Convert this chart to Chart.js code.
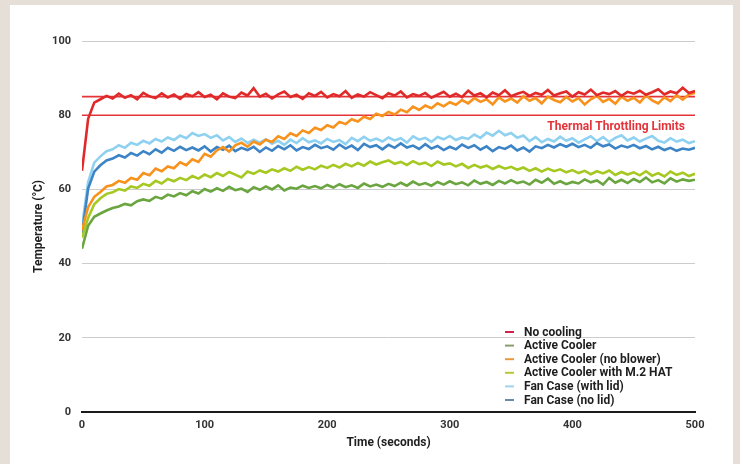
<!DOCTYPE html>
<html>
<head>
<meta charset="utf-8">
<script src="https://cdn.jsdelivr.net/npm/chart.js@4.4.1/dist/chart.umd.min.js"></script>
<style>
  html, body { margin: 0; padding: 0; background: #e5dfd7; }
  #panel { position: absolute; left: 10px; top: 5px; width: 723px; height: 459px; background: #ffffff; }
  #myChart { position: absolute; left: 0; top: 0; }
</style>
</head>
<body>
<div id="panel"></div>
<canvas id="myChart" width="740" height="464"></canvas>
<script>
// tempo em segundos (a cada 5 s)
const times = [
  0, 5, 10, 15, 20, 25, 30, 35, 40, 45,
  50, 55, 60, 65, 70, 75, 80, 85, 90, 95,
  100, 105, 110, 115, 120, 125, 130, 135, 140, 145,
  150, 155, 160, 165, 170, 175, 180, 185, 190, 195,
  200, 205, 210, 215, 220, 225, 230, 235, 240, 245,
  250, 255, 260, 265, 270, 275, 280, 285, 290, 295,
  300, 305, 310, 315, 320, 325, 330, 335, 340, 345,
  350, 355, 360, 365, 370, 375, 380, 385, 390, 395,
  400, 405, 410, 415, 420, 425, 430, 435, 440, 445,
  450, 455, 460, 465, 470, 475, 480, 485, 490, 495,
  500
]

const seriesNames = [
  'No cooling',
  'Active Cooler',
  'Active Cooler (no blower)',
  'Active Cooler with M.2 HAT',
  'Fan Case (with lid)',
  'Fan Case (no lid)'
]

const noCooling = [
  65.0, 79.0, 83.4, 84.3, 85.2, 84.5, 85.8, 84.7, 85.4, 84.3,
  86.0, 85.1, 84.6, 85.9, 84.8, 85.6, 84.4, 85.7, 85.1, 86.2,
  84.9, 85.5, 84.3, 85.9, 85.0, 84.6, 86.1, 85.3, 87.3, 85.0,
  85.8, 84.5, 85.6, 86.4, 84.9, 85.5, 84.4, 85.9, 85.2, 86.3,
  84.8, 85.7, 85.1, 86.5, 84.7, 85.6, 85.0, 86.2, 85.4, 84.6,
  85.9, 85.3, 86.4, 84.8, 85.7, 85.2, 86.0, 84.7, 85.5, 86.3,
  85.0, 85.8, 84.9, 86.6, 85.3, 85.9, 84.8, 86.1, 85.4, 86.7,
  85.1, 85.8, 86.3, 85.2, 86.0, 85.5, 86.8, 85.3, 85.9, 86.4,
  85.0, 86.2, 85.6, 86.9, 85.4, 86.1, 85.7, 86.5, 85.2, 86.3,
  85.8, 86.6, 85.5, 86.2, 87.0, 85.6, 86.4, 85.9, 87.4, 86.0,
  86.5
]

const activeCooler = [
  44.0, 50.2, 52.6, 53.5, 54.3, 55.0, 55.4, 56.1, 55.7, 56.8,
  57.3, 56.9, 58.0, 57.5, 58.6, 58.1, 59.0, 58.4, 59.5, 58.9,
  60.1, 59.4, 60.3, 59.6, 60.7, 59.8, 60.2, 59.3, 60.6, 59.9,
  60.8, 60.0, 61.1, 59.7, 60.5, 60.2, 61.0, 60.4, 60.9, 60.3,
  61.2, 60.5, 61.4, 60.6, 61.1, 60.4, 61.6, 60.8, 61.3, 60.7,
  61.5, 60.9, 61.8, 61.0, 62.1, 61.2, 61.7, 61.0, 62.0, 61.3,
  62.2, 61.4, 61.9, 61.1, 62.4, 61.5, 62.0, 61.2, 62.3, 61.6,
  62.5, 61.7, 62.1, 61.3, 62.6, 61.8, 62.9, 61.5, 62.2, 61.4,
  62.0, 61.6, 62.7, 61.9, 62.4, 61.3, 63.1, 61.8, 62.6, 61.7,
  62.8, 62.0, 63.2, 61.9, 62.5, 61.6, 63.0, 62.1, 62.7, 62.3,
  62.6
]

const noBlower = [
  49.0, 55.2, 58.0, 59.3, 60.8, 61.2, 62.3, 61.8, 63.1, 62.6,
  64.4, 63.8, 65.6, 64.9, 66.2, 65.7, 67.3, 66.5, 68.1, 67.4,
  69.6, 68.8, 70.5, 71.4, 70.2, 71.9, 72.6, 71.5, 72.9, 72.1,
  73.4, 72.8, 74.3, 73.6, 75.1, 74.4, 75.9, 75.2, 76.6, 76.0,
  77.3, 76.7, 78.2, 77.6, 78.9, 78.3, 79.6, 79.0, 80.4, 79.8,
  80.9, 80.2, 81.5, 80.8, 82.3, 81.4, 82.6, 81.9, 83.2, 82.4,
  83.5, 82.8, 84.1, 83.2, 84.6, 83.6, 84.3, 82.9, 84.8, 83.7,
  84.5, 83.4, 85.1, 83.9, 84.6, 83.2, 85.0, 84.1, 83.5, 84.9,
  83.7, 84.6, 82.9, 84.3, 85.2, 83.6, 84.4, 83.1, 85.0, 83.9,
  84.7, 83.4, 85.3, 84.0, 83.2, 84.8, 83.8, 85.4, 84.2, 85.6,
  86.0
]

const m2Hat = [
  47.0, 52.3, 56.0, 57.6, 58.8, 59.2, 60.1, 59.7, 60.8, 60.4,
  61.5, 61.0, 62.3, 61.6, 62.8, 62.2, 63.1, 62.5, 63.6, 62.9,
  64.0, 63.3, 64.4, 63.6, 64.7, 64.0, 63.2, 64.8, 64.2, 65.1,
  64.5, 65.4, 64.8, 65.7, 65.0, 66.1, 65.3, 66.0, 65.4, 66.4,
  65.8, 66.6, 65.9, 66.9, 66.2, 67.1, 66.4, 67.5, 66.7, 67.3,
  67.8, 66.9, 67.4, 66.6, 67.6, 66.8, 67.2, 66.3, 67.5, 66.7,
  67.0, 66.2, 66.9, 65.8, 66.6, 65.9, 66.4, 65.5, 66.3, 65.6,
  66.1, 65.3, 65.9, 65.0, 65.7, 64.8, 65.6, 64.9, 65.4, 64.6,
  65.2, 64.4, 65.0, 64.1, 64.9, 64.3, 65.1, 63.9, 64.7, 64.0,
  64.6, 63.8, 64.9, 63.7, 64.4, 63.5, 64.8, 63.9, 64.5, 63.6,
  64.2
]

const fanLid = [
  50.0, 62.0, 67.2, 68.9, 70.3, 70.8, 71.9, 71.2, 72.6, 72.0,
  73.1, 72.4, 73.6, 72.9, 74.0, 73.3, 74.5, 73.8, 75.2, 74.4,
  74.9, 73.9, 74.6, 73.2, 74.1, 72.8, 73.7, 72.5, 73.4, 72.6,
  73.5, 72.3, 73.1, 72.0, 73.4, 72.5, 73.8, 72.7, 73.2, 72.4,
  73.6, 72.8, 73.3, 72.2, 73.9, 73.0, 74.2, 73.1, 73.7, 72.9,
  74.0, 73.2, 73.8, 72.6, 74.3, 73.4, 73.9, 72.8, 74.1, 73.5,
  74.4, 73.3, 74.0, 73.6, 74.8, 73.9, 75.3, 74.5, 75.8, 74.6,
  75.2, 73.9, 74.5, 73.0, 74.1, 72.7, 73.6, 72.9, 74.2, 73.1,
  73.8, 72.6, 73.5, 74.3, 73.0, 74.1, 72.8, 73.9, 74.6, 73.2,
  74.0, 72.9, 73.7, 74.4, 73.1, 72.6, 73.8, 72.9, 73.4, 72.5,
  73.0
]

const fanNoLid = [
  48.0, 60.2, 64.8, 66.5, 67.8, 68.3, 69.2, 68.6, 69.8, 69.1,
  70.3, 69.5, 70.8, 69.9, 71.2, 70.4, 71.5, 70.6, 71.3, 70.5,
  71.6, 70.2, 71.4, 70.7, 71.8, 70.3, 71.2, 70.6, 71.5, 70.1,
  71.3, 70.4, 71.7, 70.8, 71.9, 70.5, 71.4, 70.9, 72.0, 71.1,
  71.6, 70.7, 72.1, 71.0, 71.8, 70.6, 72.3, 71.4, 71.9, 70.8,
  72.0, 71.2, 72.4, 71.3, 71.8, 70.9, 72.2, 71.0, 71.7, 70.6,
  71.5, 70.8, 72.1, 71.2, 71.9, 70.7, 71.6, 70.3, 71.4, 70.9,
  71.8, 70.5, 71.3, 70.2, 71.6, 71.1, 72.0, 71.3, 72.2, 71.5,
  72.3, 71.4, 72.0, 71.2, 72.5, 71.6, 72.1, 71.0, 71.8, 71.3,
  72.0, 71.1, 71.7, 70.8, 71.5, 70.6, 71.2, 70.4, 71.0, 70.7,
  71.2
]

// limites de throttling
const limits = [80, 85]
const limitLabel = 'Thermal Throttling Limits'

const yTicks = [0, 20, 40, 60, 80, 100]
const xTicks = [0, 100, 200, 300, 400, 500]

const allSeries = [noCooling, activeCooler, noBlower, m2Hat, fanLid, fanNoLid]
const colors = ['#e02a2a', '#6aa53f', '#f7921c', '#a5c922', '#8fd1f0', '#3d84c6']
const legendColors = ['#d2224a', '#8a9e6a', '#e89a3a', '#b8c834', '#9fd6e8', '#6b8aa8']

const ctx = document.getElementById('myChart')
const FONT = 'Roboto'

function toPoints (vals) {
  return times.map((t, i) => ({ x: t, y: vals[i] }))
}

const datasets = allSeries.map((vals, i) => ({
  label: seriesNames[i],
  data: toPoints(vals),
  borderColor: colors[i],
  backgroundColor: colors[i],
  borderWidth: 2.6,
  pointRadius: 0,
  tension: 0,
  order: i === 4 ? 1 : 0
}))

limits.forEach(v => {
  datasets.push({
    label: 'limit ' + v,
    data: [{ x: times[0], y: v }, { x: times[times.length - 1], y: v }],
    borderColor: '#e3343a',
    borderWidth: 1.6,
    pointRadius: 0,
    order: 2
  })
})

// legenda e texto desenhados dentro da area do grafico
const extras = {
  id: 'extras',
  afterDraw (chart) {
    const c = chart.ctx
    const area = chart.chartArea
    const xs = chart.scales.x
    const ys = chart.scales.y
    c.save()
    // texto do limite
    c.font = 'bold 12px ' + FONT
    c.fillStyle = '#e3343a'
    c.textAlign = 'right'
    c.textBaseline = 'middle'
    c.fillText(limitLabel, xs.getPixelForValue(times[times.length - 1]) - 10, ys.getPixelForValue(limits[0]) + 12)
    // legenda
    const left = area.right - 190
    const top = area.bottom - 80
    c.font = 'bold 12px ' + FONT
    c.textAlign = 'left'
    seriesNames.forEach((name, i) => {
      const y = top + i * 13.6
      c.strokeStyle = legendColors[i]
      c.lineWidth = 2
      c.beginPath()
      c.moveTo(left, y)
      c.lineTo(left + 9, y)
      c.stroke()
      c.fillStyle = '#1e1e1e'
      c.fillText(name, left + 19, y + 0.5)
    })
    c.restore()
  }
}

const myChart = new Chart(ctx, {
  type: 'line',
  data: { datasets: datasets },
  plugins: [extras],
  options: {
    responsive: false,
    animation: false,
    events: [],
    layout: { padding: { left: 28, right: 45, top: 41, bottom: 10 } },
    plugins: {
      legend: { display: false },
      tooltip: { enabled: false }
    },
    scales: {
      x: {
        type: 'linear',
        min: 0,
        max: 500,
        afterFit (scale) { scale.height = 42 },
        afterBuildTicks (scale) { scale.ticks = xTicks.map(v => ({ value: v })) },
        grid: { display: false, drawTicks: false },
        border: { display: true, color: '#1a1a1a', width: 2 },
        ticks: {
          padding: 7,
          color: '#333',
          font: { family: FONT, size: 11, weight: 'bold' }
        },
        title: {
          display: true,
          text: 'Time (seconds)',
          color: '#1e1e1e',
          padding: { top: 2, bottom: 4 },
          font: { family: FONT, size: 12, weight: 'bold' }
        }
      },
      y: {
        min: 0,
        max: 100,
        afterFit (scale) { scale.width = 54 },
        afterBuildTicks (scale) { scale.ticks = yTicks.map(v => ({ value: v })) },
        grid: { color: '#cccccc', lineWidth: 1, drawTicks: false },
        border: { display: false },
        ticks: {
          padding: 11,
          color: '#333',
          font: { family: FONT, size: 11, weight: 'bold' }
        },
        title: {
          display: true,
          text: 'Temperature (°C)',
          color: '#1e1e1e',
          padding: { top: 4, bottom: 4 },
          font: { family: FONT, size: 12, weight: 'bold' }
        }
      }
    }
  }
})
</script>
</body>
</html>
